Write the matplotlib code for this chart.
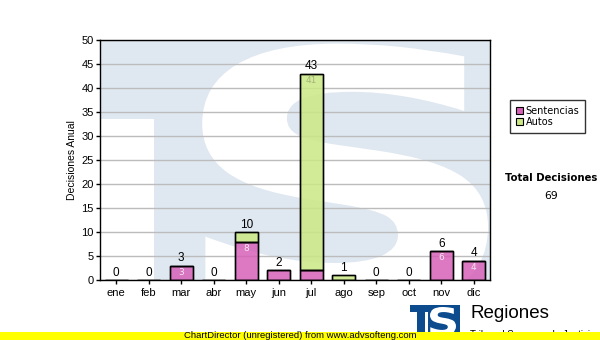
import numpy as np
import matplotlib
matplotlib.use("Agg")
import matplotlib.pyplot as plt
from matplotlib.patches import Rectangle, PathPatch
from matplotlib.textpath import TextPath
from matplotlib.font_manager import FontProperties
from matplotlib.transforms import Affine2D

# data
meses = ['ene', 'feb', 'mar', 'abr', 'may', 'jun', 'jul', 'ago', 'sep', 'oct', 'nov', 'dic']
sentencias = [0, 0, 3, 0, 8, 2, 2, 0, 0, 0, 6, 4]
autos = [0, 0, 0, 0, 2, 0, 41, 1, 0, 0, 0, 0]
series_names = ['Sentencias', 'Autos']
colores = ['#d761b8', '#cbe884']
total_label = 'Total Decisiones'

ARIAL = 'Liberation Sans'
TAHOMA = 'DejaVu Sans'

fig = plt.figure(figsize=(6, 3.4), dpi=100)
W, H = 600, 340

def px_axes(x0, y0, x1, y1):
    # pixel box (top-left origin) -> figure fraction rect
    return [x0 / W, 1 - y1 / H, (x1 - x0) / W, (y1 - y0) / H]

ax = fig.add_axes(px_axes(100, 40, 490, 280))

# watermark "TS" in light blue behind the plot
wm = '#dfe8f1'
ax.add_patch(Rectangle((0, 0), 1, 1, transform=ax.transAxes, facecolor=wm,
                       edgecolor='none', zorder=0))
ax.add_patch(Rectangle((0, 0), 0.138, 0.671, transform=ax.transAxes,
                       facecolor='white', edgecolor='none', zorder=0.1))
tp = TextPath((0, 0), 'S', size=100, prop=FontProperties(family=TAHOMA, weight='bold'))
ext = tp.get_extents()
sx0, sx1, sy0, sy1 = 0.262, 0.995, -0.13, 0.985
tr = (Affine2D().translate(-ext.x0, -ext.y0)
      .scale((sx1 - sx0) / ext.width, (sy1 - sy0) / ext.height)
      .translate(sx0, sy0))
ax.add_patch(PathPatch(tr.transform_path(tp), transform=ax.transAxes,
                       facecolor='white', edgecolor='none', zorder=0.2))

x = np.arange(len(meses))
s = np.array(sentencias)
a = np.array(autos)
tot = s + a

ax.bar(x, s, width=0.7, color=colores[0], edgecolor='black', linewidth=1,
       alpha=0.85, zorder=3, label=series_names[0])
ax.bar(x, a, width=0.7, bottom=s, color=colores[1], edgecolor='black', linewidth=1,
       alpha=0.85, zorder=3, label=series_names[1])

# redraw edges so they are fully black
for vals, bottoms in ((s, np.zeros_like(s)), (a, s)):
    for xi, v, b in zip(x, vals, bottoms):
        if v > 0:
            ax.add_patch(Rectangle((xi - 0.35, b), 0.7, v, facecolor='none',
                                   edgecolor='black', linewidth=1, zorder=4))

# totals on top
for xi, t in zip(x, tot):
    ax.text(xi, t + 0.3, str(t), ha='center', va='bottom', fontsize=8.5,
            family=ARIAL, color='black', zorder=5)

# values inside segments
for xi, v in zip(x, s):
    if v >= 3:
        ax.text(xi, v - 1.4, str(v), ha='center', va='center', fontsize=6.5,
                family=TAHOMA, color='#f4e6f0', zorder=5)
for xi, v, b in zip(x, a, s):
    if v >= 3:
        ax.text(xi, b + v - 1.4, str(v), ha='center', va='center', fontsize=6.5,
                family=TAHOMA, color='#a4b47c', zorder=5)

ax.set_xlim(-0.5, len(meses) - 0.5)
ax.set_ylim(0, 50)
ax.set_yticks(np.arange(0, 51, 5))
ax.set_xticks(x)
ax.set_xticklabels(meses)
ax.yaxis.grid(True, color='#bcbcbc', linewidth=1, zorder=1)
ax.set_axisbelow(True)
for sp in ax.spines.values():
    sp.set_color('black')
    sp.set_linewidth(1)
    sp.set_zorder(6)
ax.tick_params(axis='both', length=3, width=1, color='black', labelsize=8, pad=1.5)
ax.tick_params(axis='x', pad=3)
for lab in ax.get_xticklabels() + ax.get_yticklabels():
    lab.set_family(ARIAL)
ax.set_ylabel('Decisiones Anual', fontsize=7.5, family=ARIAL, labelpad=3)

# legend
lg = fig.legend(loc='upper left', bbox_to_anchor=(510 / W, 1 - 100 / H),
                borderaxespad=0, frameon=True, fancybox=False, edgecolor='black',
                handlelength=0.7, handleheight=0.7, handletextpad=0.3,
                borderpad=0.6, labelspacing=0.15, prop={'family': TAHOMA, 'size': 7})
lg.get_frame().set_linewidth(1)
for h in lg.legend_handles:
    h.set_alpha(1)
    h.set_edgecolor('black')
    h.set_linewidth(0.8)

fig.text(551 / W, 1 - 178 / H, total_label, ha='center', va='center',
         fontsize=7.3, fontweight='bold', family=TAHOMA)
fig.text(551 / W, 1 - 196 / H, str(int(tot.sum())), ha='center', va='center',
         fontsize=7.8, family=TAHOMA)

# logo at bottom right
lax = fig.add_axes(px_axes(410, 305, 460, 332))
lax.set_xlim(0, 50)
lax.set_ylim(0, 27)
lax.axis('off')
lax.add_patch(Rectangle((0, 0), 50, 27, facecolor='#0b4b8e', edgecolor='none'))
lax.add_patch(Rectangle((0, 0), 7, 20, facecolor='white', edgecolor='none'))
lax.add_patch(Rectangle((15, 0), 3, 20, facecolor='white', edgecolor='none'))
tp2 = TextPath((0, 0), 'S', size=100, prop=FontProperties(family=TAHOMA, weight='bold'))
e2 = tp2.get_extents()
tr2 = (Affine2D().translate(-e2.x0, -e2.y0)
       .scale(26 / e2.width, 28 / e2.height).translate(20, -3))
lax.add_patch(PathPatch(tr2.transform_path(tp2), facecolor='white', edgecolor='none'))

fig.text(470 / W, 1 - 314 / H, 'Regiones', ha='left', va='center', fontsize=13.5,
         family=ARIAL)
fig.text(470 / W, 1 - 334.5 / H, 'Tribunal Supremo de Justicia', ha='left', va='center',
         fontsize=7, family=ARIAL, zorder=1)

# yellow footer
fax = fig.add_axes([0, 0, 1, 8.5 / H])
fax.set_zorder(10)
fax.axis('off')
fax.add_patch(Rectangle((0, 0), 1, 1, transform=fax.transAxes, facecolor='#ffff00',
                        edgecolor='none'))
fax.text(0.5, 0.5, 'ChartDirector (unregistered) from www.advsofteng.com',
         ha='center', va='center', fontsize=6.8, family=ARIAL, transform=fax.transAxes)

fig.savefig('out.png', dpi=100)
